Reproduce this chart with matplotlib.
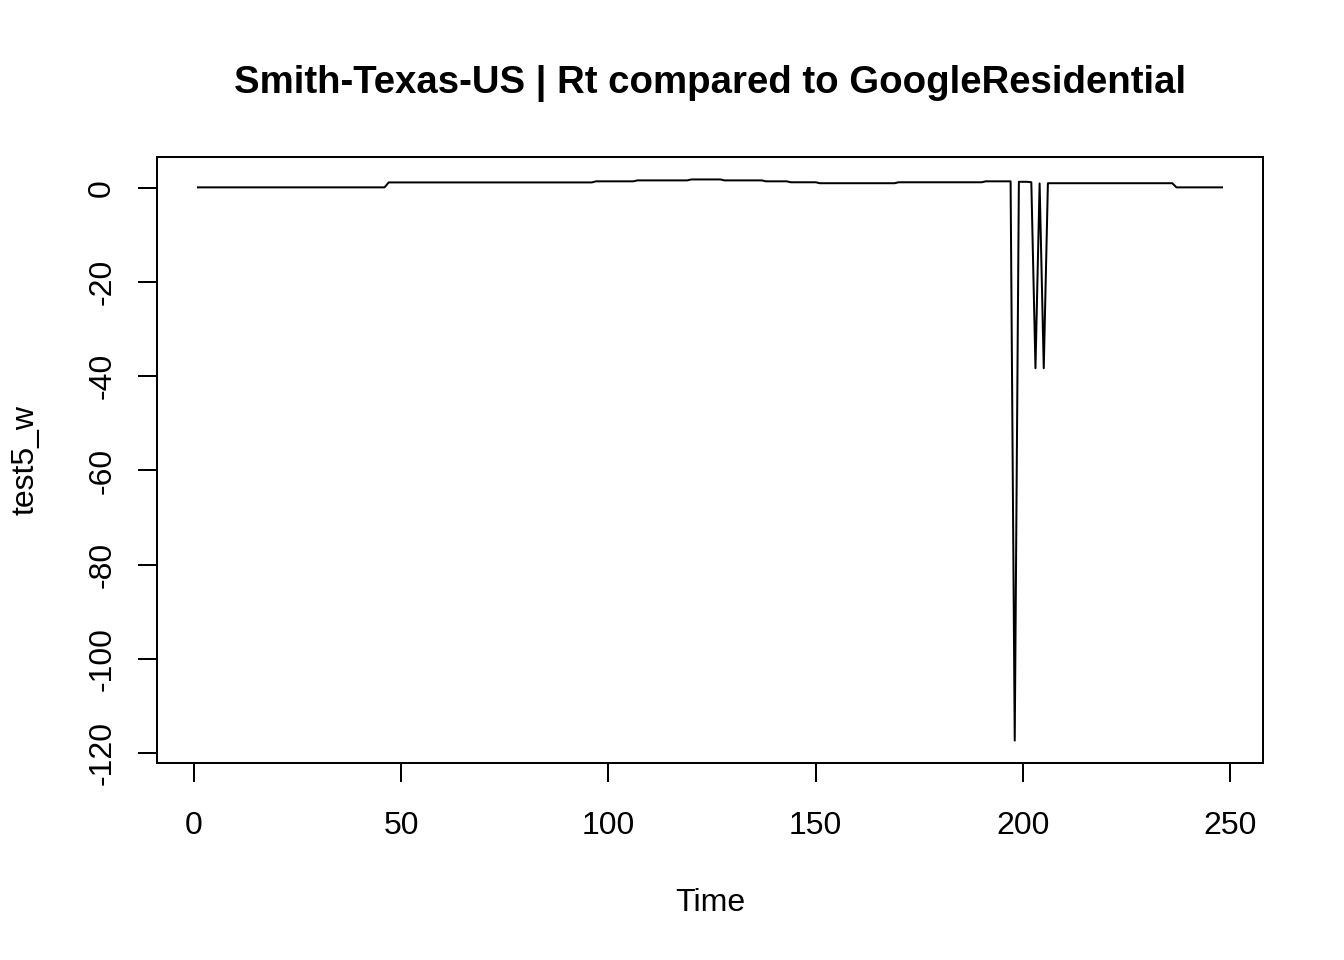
import matplotlib
matplotlib.use("Agg")
import matplotlib.pyplot as plt
import numpy as np

# series, one value per time step (t = 1..248)
test5_w = [
    0.07, 0.07, 0.07, 0.07, 0.07, 0.07, 0.07, 0.07, 0.07, 0.07,
    0.07, 0.07, 0.07, 0.07, 0.07, 0.07, 0.07, 0.07, 0.07, 0.07,
    0.07, 0.07, 0.07, 0.07, 0.07, 0.07, 0.07, 0.07, 0.07, 0.07,
    0.07, 0.07, 0.07, 0.07, 0.07, 0.07, 0.07, 0.07, 0.07, 0.07,
    0.07, 0.07, 0.07, 0.07, 0.07, 0.07, 1.12, 1.12, 1.12, 1.12,
    1.12, 1.12, 1.12, 1.12, 1.12, 1.12, 1.12, 1.12, 1.12, 1.12,
    1.12, 1.12, 1.12, 1.12, 1.12, 1.12, 1.12, 1.12, 1.12, 1.12,
    1.12, 1.12, 1.12, 1.12, 1.12, 1.12, 1.12, 1.12, 1.12, 1.12,
    1.12, 1.12, 1.12, 1.12, 1.12, 1.12, 1.12, 1.12, 1.12, 1.12,
    1.12, 1.12, 1.12, 1.12, 1.12, 1.12, 1.35, 1.35, 1.35, 1.35,
    1.35, 1.35, 1.35, 1.35, 1.35, 1.35, 1.55, 1.55, 1.55, 1.55,
    1.55, 1.55, 1.55, 1.55, 1.55, 1.55, 1.55, 1.55, 1.55, 1.75,
    1.75, 1.75, 1.75, 1.75, 1.75, 1.75, 1.75, 1.55, 1.55, 1.55,
    1.55, 1.55, 1.55, 1.55, 1.55, 1.55, 1.55, 1.35, 1.35, 1.35,
    1.35, 1.35, 1.35, 1.15, 1.15, 1.15, 1.15, 1.15, 1.15, 1.15,
    0.95, 0.95, 0.95, 0.95, 0.95, 0.95, 0.95, 0.95, 0.95, 0.95,
    0.95, 0.95, 0.95, 0.95, 0.95, 0.95, 0.95, 0.95, 0.95, 1.15,
    1.15, 1.15, 1.15, 1.15, 1.15, 1.15, 1.15, 1.15, 1.15, 1.15,
    1.15, 1.15, 1.15, 1.15, 1.15, 1.15, 1.15, 1.15, 1.15, 1.15,
    1.35, 1.35, 1.35, 1.35, 1.35, 1.35, 1.35, -117.3, 1.25, 1.25,
    1.25, 1.15, -38.3, 0.9, -38.3, 0.95, 0.95, 0.95, 0.95, 0.95,
    0.95, 0.95, 0.95, 0.95, 0.95, 0.95, 0.95, 0.95, 0.95, 0.95,
    0.95, 0.95, 0.95, 0.95, 0.95, 0.95, 0.95, 0.95, 0.95, 0.95,
    0.95, 0.95, 0.95, 0.95, 0.95, 0.95, 0.07, 0.07, 0.07, 0.07,
    0.07, 0.07, 0.07, 0.07, 0.07, 0.07, 0.07, 0.07,
]
time = np.arange(1, len(test5_w) + 1)

x_ticks = [0, 50, 100, 150, 200, 250]
y_ticks = [0, -20, -40, -60, -80, -100, -120]

title = "Smith-Texas-US | Rt compared to GoogleResidential"

plt.rcParams['font.family'] = ['Liberation Sans', 'DejaVu Sans']

fig = plt.figure(figsize=(13.44, 9.6), dpi=100)
ax = fig.add_axes([157 / 1344, 1 - 763 / 960, (1263 - 157) / 1344, (763 - 157) / 960])

ax.plot(time, test5_w, color='black', linewidth=1.44)

# R style 4% padding on both axes
xr = time.max() - time.min()
ax.set_xlim(time.min() - 0.04 * xr, time.max() + 0.04 * xr)
yr = max(test5_w) - min(test5_w)
ax.set_ylim(min(test5_w) - 0.04 * yr, max(test5_w) + 0.04 * yr)

ax.set_xticks(x_ticks)
ax.set_xticklabels([str(v) for v in x_ticks])
ax.set_yticks(y_ticks)
ax.set_yticklabels([str(v) for v in y_ticks], rotation=90, va='center')

ax.tick_params(axis='both', direction='out', length=13.7, width=1.44,
               labelsize=23, color='black')
ax.tick_params(axis='x', pad=21)
ax.tick_params(axis='y', pad=15)
for s in ax.spines.values():
    s.set_linewidth(1.44)

fig.text(710 / 1344, 1 - 84 / 960, title, ha='center', va='center',
         fontsize=27.6, fontweight='bold')
fig.text(710 / 1344, 1 - 903 / 960, "Time", ha='center', va='center', fontsize=23)
fig.text(25 / 1344, 1 - 460 / 960, "test5_w", ha='center', va='center',
         fontsize=23, rotation=90)

fig.savefig("out.png", dpi=100)
